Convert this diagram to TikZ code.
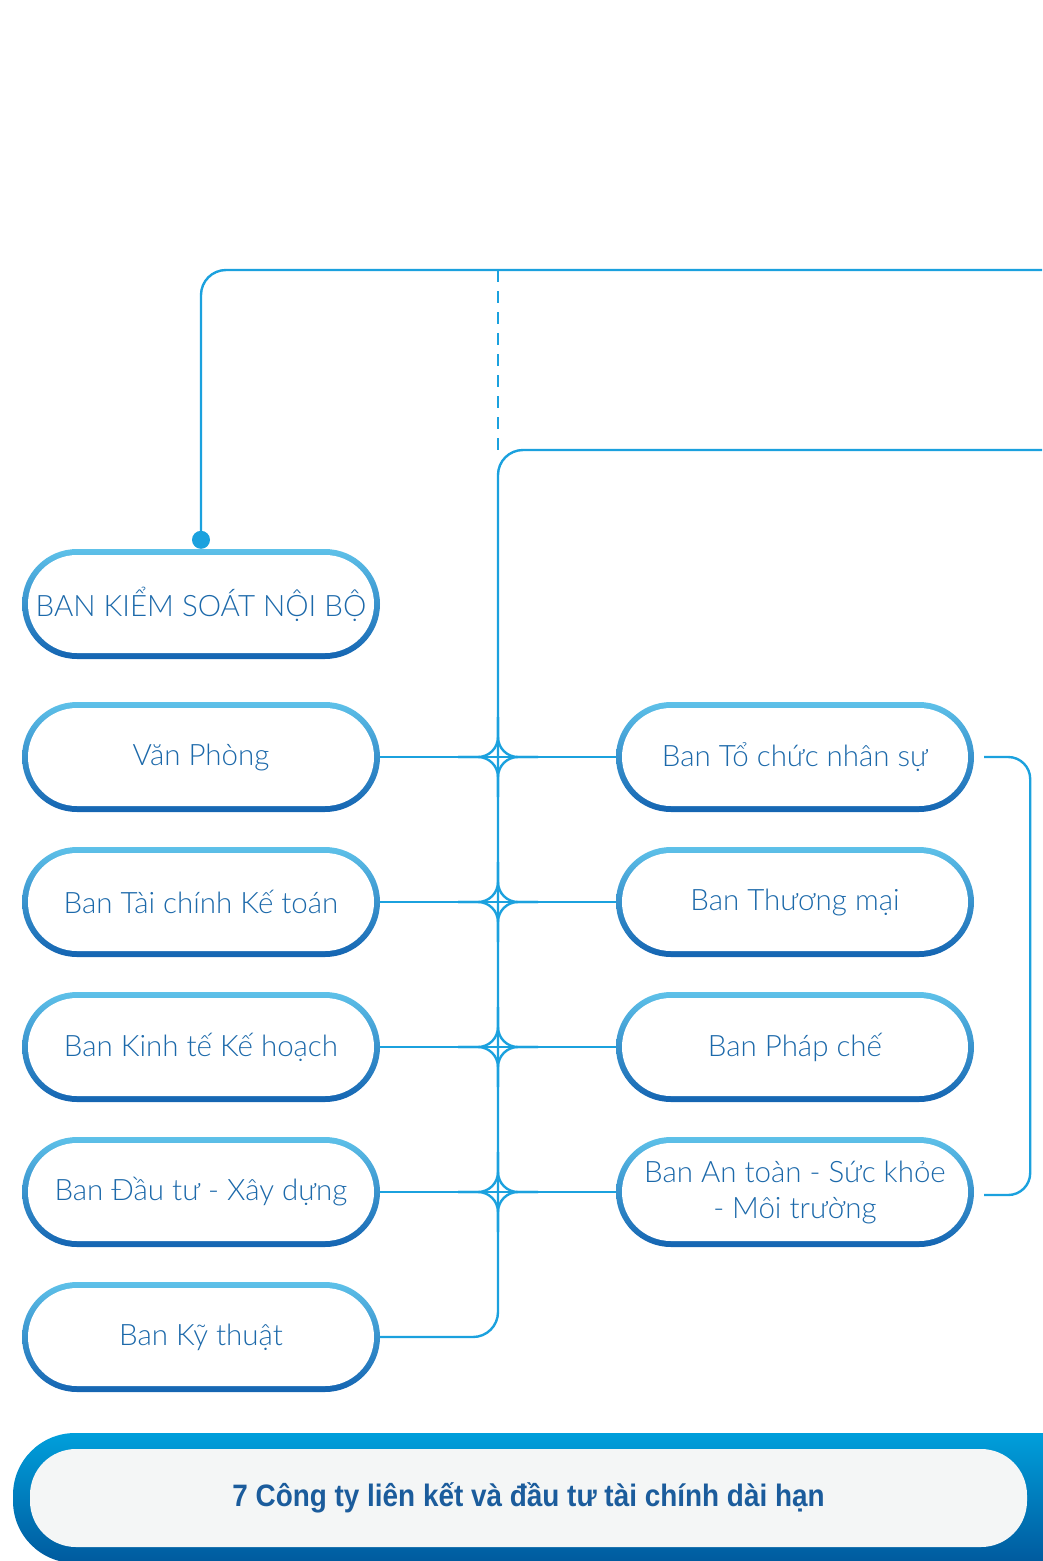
\documentclass[tikz,border=0pt]{standalone}
\usepackage{fontspec}
\setmainfont{Lato}[UprightFont=* Light]
\newfontfamily\condfont{Liberation Sans}[FakeStretch=0.9]
\usetikzlibrary{positioning,shapes.misc}
\definecolor{linkblue}{HTML}{1BA1DE}
\definecolor{pilltext}{HTML}{1C69AA}
\definecolor{rimtop}{HTML}{5EC1E9}
\definecolor{rimbot}{HTML}{1464B1}
\definecolor{bartop}{HTML}{009FDB}
\definecolor{barbot}{HTML}{005A9E}
\definecolor{barfill}{HTML}{F4F6F6}
\definecolor{bartext}{HTML}{1B5C9C}
\tikzstyle{pill}=[rounded rectangle, minimum width=358pt, minimum height=110pt, inner sep=0pt,
  top color=rimtop, bottom color=rimbot, text=pilltext, align=center,
  font=\fontsize{29.5}{36}\selectfont,
  path picture={\fill[white,rounded corners=49pt]
    ([xshift=6pt,yshift=-6pt]path picture bounding box.north west) rectangle
    ([xshift=-6pt,yshift=6pt]path picture bounding box.south east);}]
\tikzstyle{link}=[draw=linkblue, line width=2.4pt]
\newcommand{\hub}[1]{%
  \draw[link,rounded corners=20pt] ([yshift=40pt]#1) |- ([xshift=-40pt]#1);
  \draw[link,rounded corners=20pt] ([yshift=40pt]#1) |- ([xshift=40pt]#1);
  \draw[link,rounded corners=20pt] ([yshift=-40pt]#1) |- ([xshift=-40pt]#1);
  \draw[link,rounded corners=20pt] ([yshift=-40pt]#1) |- ([xshift=40pt]#1);}

\begin{document}
\begin{tikzpicture}[x=1pt,y=-1pt,node distance=145pt]
            \useasboundingbox (0,0) rectangle (1042,1561);
            \coordinate (dashtop) at (498,270);
            \coordinate (topR) at (1042,270);
            \coordinate (midR) at (1042,450);

            \node (kiemsoat) [pill] at (201,604) {BAN KIỂM SOÁT NỘI BỘ};
            \node (vanphong) [pill] at (201,757) {Văn Phòng};
            \node (taichinh) [pill] [below of=vanphong] {Ban Tài chính Kế toán};
            \node (kinhte) [pill] [below of=taichinh] {Ban Kinh tế Kế hoạch};
            \node (dautu) [pill] [below of=kinhte] {Ban Đầu tư - Xây dựng};
            \node (kythuat) [pill] [below of=dautu] {Ban Kỹ thuật};
            \node (tochuc) [pill] [right of=vanphong, node distance=594pt] {Ban Tổ chức nhân sự};
            \node (thuongmai) [pill] [below of=tochuc] {Ban Thương mại};
            \node (phapche) [pill] [below of=thuongmai] {Ban Pháp chế};
            \node (antoan) [pill] [below of=phapche] {Ban An toàn - Sức khỏe\\- Môi trường};

            \draw[link,rounded corners=25pt] ([yshift=9pt]kiemsoat.north) |- (topR);
            \fill[linkblue] ([yshift=9pt]kiemsoat.north) circle (9pt);
            \draw[link,dash pattern=on 12pt off 9pt] (dashtop) -- ([yshift=-4pt]dashtop |- midR);
            \draw[link,rounded corners=25pt] (midR) -| (kythuat.east -| dashtop) -- (kythuat.east);

            \draw[link] (vanphong.east) -- (tochuc.west);
            \draw[link] (taichinh.east) -- (thuongmai.west);
            \draw[link] (kinhte.east) -- (phapche.west);
            \draw[link] (dautu.east) -- (antoan.west);
            \hub{vanphong.east -| dashtop}
            \hub{taichinh.east -| dashtop}
            \hub{kinhte.east -| dashtop}
            \hub{dautu.east -| dashtop}

            \draw[link,rounded corners=22pt] ([xshift=10pt]tochuc.east) -- ++(46,0) |- ([xshift=10pt,yshift=-3pt]antoan.east);

            % bottom bar
            \shade[top color=bartop, bottom color=barbot, rounded corners=62pt] (13,1433) rectangle (1100,1563);
            \node (congty) [rectangle, rounded corners=46pt, fill=barfill, minimum width=997pt, minimum height=98pt,
              text=bartext, font=\condfont\bfseries\fontsize{31}{36}\selectfont] at (528.5,1498)
              {7 Công ty liên kết và đầu tư tài chính dài hạn};
        \end{tikzpicture}
\end{document}
